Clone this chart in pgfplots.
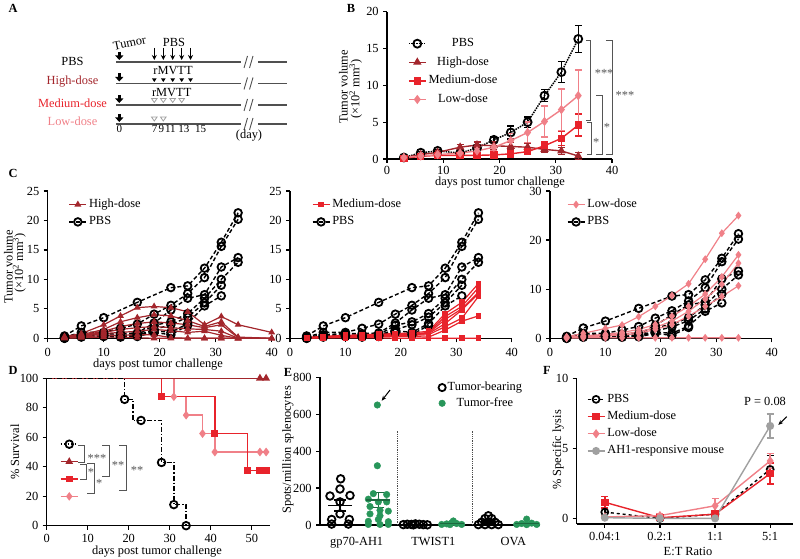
\documentclass[border=0pt]{standalone}
\usepackage{fontspec}
\setmainfont{Liberation Serif}
\usepackage{pgfplots}
\usepackage{pgfplotstable}
\pgfplotsset{compat=1.18}
\usetikzlibrary{arrows.meta}
\definecolor{hi}{RGB}{163,38,44}
\definecolor{med}{RGB}{232,35,43}
\definecolor{low}{RGB}{240,128,136}
\definecolor{grn}{RGB}{40,150,90}
\definecolor{gry}{RGB}{160,160,160}
\definecolor{stg}{RGB}{85,85,85}
\definecolor{tl}{RGB}{80,80,80}
\newcommand\fs{\fontsize{12.4}{14}\selectfont}

\pgfplotsset{
 base/.style={scale only axis, anchor=south west, axis lines=left,
   axis line style={-, line width=1.3pt, black},
   tick style={line width=1.2pt, black}, major tick length=4pt, tick align=outside,
   clip=false, /pgf/number format/assume math mode=true, tick label style={font=\fs},
   scaled ticks=false,
   legend style={draw=none, fill=none, font=\fs, inner sep=0pt,
     nodes={inner ysep=0pt, inner xsep=2pt, text height=9pt, text depth=3pt}}},
 pbsC/.style={black, dash pattern=on 4pt off 2.5pt, line width=1.4pt, mark=o, mark size=3.8pt, mark options={solid, line width=1.8pt}},
 hiC/.style={hi, line width=1.2pt, mark=triangle*, mark size=2.8pt},
 medC/.style={med, line width=1.2pt, mark=square*, mark size=2.3pt},
 lowC/.style={low, line width=1.2pt, mark=diamond*, mark size=3pt},
 eb/.style={error bars/.cd, y dir=both, y explicit, error bar style={solid,line width=1.4pt},
   error mark options={solid, rotate=90, line width=1.4pt, mark size=3.5pt}},
}

% ---------- data ----------
\pgfplotstableread{
d pm pe hm he mm me lm le
3 0.2 0.1 0.2 0.05 0.1 0.05 0.2 0.05
6 0.85 0.2 0.6 0.1 0.35 0.1 0.4 0.1
9 1.1 0.2 0.9 0.2 0.5 0.1 0.6 0.15
13 0.8 0.3 1.6 0.4 0.5 0.1 0.8 0.2
16 1.5 0.3 1.9 0.4 0.5 0.1 1.1 0.3
19 2.6 0.4 1.8 0.5 0.55 0.15 1.6 0.5
22 3.6 0.9 1.7 0.5 0.7 0.2 2.5 1.0
25 5.0 0.7 1.6 0.5 1.0 0.3 3.6 1.4
28 8.6 0.8 1.3 0.4 1.8 0.6 5.1 2.1
31 11.8 1.4 1.1 0.5 2.8 1.0 6.7 2.8
34 16.3 1.8 0.4 0.5 4.6 1.5 8.6 3.5
}\tabB

\pgfplotstableread{
d p1 p2 p3 p4 p5 p6 p7
3 0.4 0.2 0.1 0.0 0.1 0.0 0.2
6 2.1 1.0 0.6 0.3 0.5 0.2 0.4
10 3.5 1.0 0.8 0.6 0.5 0.4 0.3
13 nan 1.7 0.8 0.5 0.4 0.3 0.2
16 6.1 2.4 0.9 0.6 0.5 0.4 0.3
19 nan 4.1 2.6 2.2 1.5 1.3 1.0
22 8.6 5.6 4.8 2.8 2.3 1.0 0.6
25 8.9 7.6 6.8 4.2 3.6 2.5 2.2
28 11.9 10.3 7.4 6.8 6.0 5.5 nan
31 16.3 15.6 12.1 10.0 9.0 7.2 nan
34 21.3 20.2 13.7 12.9 nan nan nan
}\pbsC

\pgfplotstableread{
d h1 h2 h3 h4 h5 h6 h7
3 0.3 0.2 0.2 0.1 0.1 0.1 0.0
6 0.8 0.6 0.5 0.4 0.3 0.2 0.1
10 2.3 1.5 1.2 1.0 0.8 0.5 0.2
13 3.8 2.8 2.0 1.5 1.0 0.5 0.2
16 5.2 3.5 2.5 1.8 1.2 0.6 0.1
19 5.4 4.0 2.8 2.0 1.5 0.6 0.0
22 5.2 3.8 2.6 1.8 1.3 0.1 0.0
25 4.5 3.0 2.3 1.6 1.0 0.0 0.0
28 2.3 2.0 1.8 1.5 1.2 0.0 0.0
31 3.7 2.8 2.3 1.2 0.5 0.0 0.0
34 2.3 0.2 0.1 0.0 0.0 0.0 0.0
40 1.0 0.0 0.0 0.0 nan nan nan
}\hiC

\pgfplotstableread{
d m1 m2 m3 m4 m5 m6 m7
3 0.1 0.1 0.1 0.1 0.0 0.0 0.1
6 0.3 0.3 0.2 0.2 0.1 0.1 0.2
10 0.5 0.4 0.4 0.3 0.2 0.1 0.3
13 0.6 0.5 0.4 0.3 0.2 0.1 0.4
16 0.7 0.6 0.5 0.4 0.3 0.1 0.5
19 0.8 0.6 0.5 0.4 0.3 0.0 0.5
22 0.9 0.7 0.6 0.5 0.3 0.0 0.6
25 1.2 1.0 0.8 0.6 0.2 0.0 0.9
28 4.2 3.7 2.5 2.0 1.4 0.0 3.2
31 6.1 5.4 4.8 3.4 2.9 0.0 5.0
34 9.3 8.6 7.6 7.1 3.8 0.0 7.8
}\medC

\pgfplotstableread{
d l1 l2 l3 l4 l5
3 0.3 0.2 0.1 0.1 0.0
6 1.0 0.5 0.4 0.3 0.1
10 2.0 0.8 0.6 0.5 0.1
13 2.7 1.2 0.9 0.6 0.1
16 4.4 1.8 1.3 1.0 0.1
19 6.5 2.8 2.2 1.8 0.1
22 8.7 4.5 3.5 2.8 0.1
25 11.1 6.5 5.5 4.5 0.1
28 16.1 9.0 8.0 6.5 0.1
31 21.4 12.5 11.0 8.5 0.1
34 25.0 17.0 15.3 10.7 0.1
}\lowC

\pgfplotstableread{
x pb pbe md mde lw lwe ah ahe
0 0.45 0.3 1.15 0.4 0.1 0.1 0.05 0.05
1 0.0 0.1 0.05 0.1 0.2 0.15 0.0 0.05
2 0.3 0.1 0.3 0.1 0.9 0.5 0.0 0.05
3 3.5 1.0 3.2 0.75 4.1 0.55 6.6 0.85
}\tabF

\begin{document}
\fs
\begin{tikzpicture}
\path[use as bounding box] (0,0) rectangle (800pt,559pt);

% ================= B =================
\begin{axis}[base, at={(387pt,400pt)}, width=225pt, height=147.3pt,
  xmin=0,xmax=40,ymin=0,ymax=20, xtick={0,10,...,40}, ytick={0,5,...,20},
  xticklabel style={yshift=1pt},
  legend style={at={(axis cs:3.7,16.5)}, anchor=north west, row sep=6.6pt, cells={anchor=center}}]
\addplot[black, densely dotted, line width=1.5pt, mark=o, mark size=4pt, mark options={solid,line width=1.8pt}, eb]
  table[x=d,y=pm,y error=pe]{\tabB};
\addlegendentry{PBS}
\addplot[hi, line width=1.4pt, mark=triangle*, mark size=3.5pt, eb]
  table[x=d,y=hm,y error=he]{\tabB};
\addlegendentry{High-dose}
\addplot[med, line width=1.4pt, mark=square*, mark size=3pt, eb]
  table[x=d,y=mm,y error=me]{\tabB};
\addlegendentry{Medium-dose}
\addplot[low, line width=1.4pt, mark=diamond*, mark size=3.5pt, eb]
  table[x=d,y=lm,y error=le]{\tabB};
\addlegendentry{Low-dose}
\draw[stg, line width=0.8pt] (axis cs:35.4,16.1) -- (axis cs:36.1,16.1) -- (axis cs:36.1,5.3) -- (axis cs:35.4,5.3);
\draw[stg, line width=0.8pt] (axis cs:38.9,16.1) -- (axis cs:40.1,16.1) -- (axis cs:40.1,0.68) -- (axis cs:38.9,0.68);
\draw[stg, line width=0.8pt] (axis cs:37.2,8.7) -- (axis cs:38.3,8.7) -- (axis cs:38.3,0.68) -- (axis cs:37.2,0.68);
\draw[stg, line width=0.8pt] (axis cs:35.6,4.93) -- (axis cs:36.4,4.93) -- (axis cs:36.4,0.68) -- (axis cs:35.6,0.68);
\node[stg] at (axis cs:38.6,11.6) {***};
\node[stg] at (axis cs:42.3,8.6) {***};
\node[stg] at (axis cs:39.1,4.3) {*};
\node[stg] at (axis cs:37.2,2.3) {*};
\end{axis}

% ================= C1 =================
\begin{axis}[base, at={(47.7pt,220.7pt)}, width=224pt, height=147.3pt,
  xmin=0,xmax=40,ymin=0,ymax=25, xtick={0,10,...,40}, ytick={0,5,...,25},
  xticklabel style={yshift=-1.5pt},
  legend style={at={(axis cs:3.7,23.76)}, anchor=north west, row sep=5.4pt, cells={anchor=west}}]
\addlegendimage{hiC}\addlegendentry{High-dose}
\addlegendimage{pbsC}\addlegendentry{PBS}
\foreach \c in {p1,p2,p3,p4,p5,p6,p7}{\addplot[pbsC, forget plot] table[x=d,y=\c]{\pbsC};}
\foreach \c in {h1,h2,h3,h4,h5,h6,h7}{\addplot[hiC, forget plot] table[x=d,y=\c]{\hiC};}
\end{axis}

% ================= C2 =================
\begin{axis}[base, at={(290pt,220.7pt)}, width=221.7pt, height=147.3pt,
  xmin=0,xmax=40,ymin=0,ymax=25, xtick={0,10,...,40}, ytick={0,5,...,25},
  xticklabel style={yshift=-1.5pt},
  legend style={at={(axis cs:3.9,23.76)}, anchor=north west, row sep=5.4pt, cells={anchor=west}}]
\addlegendimage{medC}\addlegendentry{Medium-dose}
\addlegendimage{pbsC}\addlegendentry{PBS}
\foreach \c in {p1,p2,p3,p4,p5,p6,p7}{\addplot[pbsC, forget plot] table[x=d,y=\c]{\pbsC};}
\foreach \c in {m1,m2,m3,m4,m5,m6,m7}{\addplot[medC, forget plot] table[x=d,y=\c]{\medC};}
\end{axis}

% ================= C3 =================
\begin{axis}[base, at={(550pt,220.7pt)}, width=221.7pt, height=147.3pt,
  xmin=0,xmax=40,ymin=0,ymax=30, xtick={0,10,...,40}, ytick={0,10,20,30},
  xticklabel style={yshift=-1.5pt},
  legend style={at={(axis cs:3.0,28.5)}, anchor=north west, row sep=5.4pt, cells={anchor=west}}]
\addlegendimage{lowC}\addlegendentry{Low-dose}
\addlegendimage{pbsC}\addlegendentry{PBS}
\foreach \c in {p1,p2,p3,p4,p5,p6,p7}{\addplot[pbsC, forget plot] table[x=d,y=\c]{\pbsC};}
\foreach \c in {l1,l2,l3,l4,l5}{\addplot[lowC, forget plot] table[x=d,y=\c]{\lowC};}
\end{axis}

% ================= D =================
\begin{axis}[base, at={(46.7pt,33.3pt)}, width=223.5pt, height=147.4pt,
  xmin=0,xmax=54.5,ymin=0,ymax=100, xtick={0,10,...,50}, ytick={0,20,...,100},
  legend style={at={(axis cs:3.2,59.5)}, anchor=north west, row sep=5.4pt, cells={anchor=west}}]
\addlegendimage{black, dash pattern=on 1.5pt off 2pt, line width=1.4pt, mark=o, mark size=3.8pt, mark options={solid,line width=1.8pt}}\addlegendentry{\mbox{}}
\addlegendimage{hiC, mark size=3.2pt}\addlegendentry{\mbox{}}
\addlegendimage{medC, mark size=2.8pt}\addlegendentry{\mbox{}}
\addlegendimage{lowC, mark size=3.3pt}\addlegendentry{\mbox{}}
\addplot[low, line width=1.4pt, const plot mark left, mark=diamond*, mark size=3.3pt, mark indices={2,3,4,5,6,7}, forget plot]
  coordinates {(0,100)(31,87.5)(34,75)(38,62.5)(41,50)(52,50)(53.5,50)};
\addplot[med, line width=1.4pt, const plot mark left, mark=square*, mark size=2.8pt, mark indices={2,3,4,5,6}, forget plot]
  coordinates {(0,100)(28,87.5)(41,62.5)(49,37.5)(52,37.5)(53.5,37.5)};
\addplot[hi, line width=1.4pt, mark=triangle*, mark size=3.2pt, mark indices={2,3}, forget plot]
  coordinates {(0,100)(52,100)(53.5,100)};
\addplot[black, dash pattern=on 5pt off 2pt on 1.2pt off 2pt, line width=1.4pt, const plot mark left, mark=o, mark size=3.8pt, mark options={solid,line width=1.8pt}, mark indices={2,4,5,6}, forget plot]
  coordinates {(0,100)(19,85.7)(21,71.4)(28,42.9)(31,14.3)(34,0)};
\addplot[black, only marks, mark=o, mark size=3.8pt, mark options={solid,line width=1.8pt}, forget plot]
  coordinates {(23,71.4)};
\end{axis}

% ================= E =================
\begin{axis}[base, at={(320pt,34pt)}, width=220pt, height=147.7pt,
  xmin=0,xmax=6.6,ymin=0,ymax=800, ytick={0,200,...,800},
  xtick={1.1,3.4,5.8}, xticklabels={gp70-AH1,TWIST1,OVA}, major x tick style={draw=none},
  xticklabel style={yshift=-4pt},
  legend style={at={(axis cs:3.55,778)}, anchor=north west, row sep=3.7pt, cells={anchor=center}}]
\addlegendimage{only marks, mark=o, black, mark size=3.6pt, mark options={line width=1.8pt}}\addlegendentry{Tumor-bearing}
\addlegendimage{only marks, mark=*, grn, mark size=3.3pt}\addlegendentry{Tumor-free}
\addplot[gray!60!black, densely dotted, line width=0.8pt, forget plot] coordinates {(2.33,0)(2.33,510)};
\addplot[gray!60!black, densely dotted, line width=0.8pt, forget plot] coordinates {(4.57,0)(4.57,510)};
\addplot[only marks, mark=o, black, mark size=3.8pt, mark options={line width=1.8pt}, forget plot]
 coordinates {(0.62,250)(0.6,195)(0.3,157)(0.9,160)(0.6,125)(0.35,30)(0.88,30)(0.6,60)(0.35,5)(0.85,5)
 (2.5,2)(2.62,4)(2.74,3)(2.86,6)(2.98,4)(3.1,2)(3.22,1)(2.8,1)
 (5.05,50)(4.95,35)(5.15,35)(4.85,15)(5.05,15)(5.25,15)(4.75,2)(4.95,2)(5.15,2)(5.35,2)};
\addplot[only marks, mark=*, grn, mark size=3.3pt, forget plot]
 coordinates {(1.72,650)(1.72,321)(1.6,170)(2.0,165)(1.45,140)(1.75,125)(2.0,125)(1.5,100)(1.8,80)(2.05,75)(1.5,60)(1.8,50)(1.45,20)(1.75,30)(2.05,18)(1.45,3)(1.8,3)(2.05,3)
 (3.65,3)(3.8,6)(3.95,12)(4.0,22)(4.1,8)(4.25,3)(3.9,2)
 (5.9,3)(6.05,8)(6.2,32)(6.35,10)(6.5,3)(6.2,2)};
\addplot[black, only marks, mark=-, mark size=12pt, mark options={line width=1.5pt}, forget plot,
  error bars/.cd, y dir=both, y explicit, error bar style={line width=1.5pt}, error mark options={rotate=90, line width=1.5pt, mark size=6pt}]
  coordinates {(0.6,105) +- (0,30) (2.85,3) +- (0,1) (5.05,18) +- (0,6)};
\addplot[grn!70!black, only marks, mark=-, mark size=12pt, mark options={line width=1.5pt}, forget plot,
  error bars/.cd, y dir=both, y explicit, error bar style={line width=1.5pt}, error mark options={rotate=90, line width=1.5pt, mark size=6pt}]
  coordinates {(1.75,135) +- (0,40) (3.95,8) +- (0,3) (6.2,8) +- (0,4)};
\draw[-{Stealth[length=5pt,width=4pt]}, line width=1pt] (axis cs:2.1,731) -- (axis cs:1.85,673);
\end{axis}

% ================= F =================
\begin{axis}[base, at={(576.7pt,35pt)}, width=216.6pt, height=145.7pt,
  xmin=-0.51,xmax=3.42,ymin=-0.4,ymax=10, ytick={0,5,10},
  xtick={0,1,2,3}, xticklabels={0.04:1,0.2:1,1:1,5:1},
  legend style={at={(axis cs:-0.33,8.94)}, anchor=north west, row sep=5.2pt, cells={anchor=west}}]
\addplot[black, dashed, line width=1.4pt, mark=o, mark size=3.5pt, mark options={solid,line width=1.7pt}, eb]
  table[x=x,y=pb,y error=pbe]{\tabF};
\addlegendentry{PBS}
\addplot[med, line width=1.4pt, mark=square*, mark size=3pt, eb]
  table[x=x,y=md,y error=mde]{\tabF};
\addlegendentry{Medium-dose}
\addplot[low, line width=1.4pt, mark=diamond*, mark size=3.5pt, eb]
  table[x=x,y=lw,y error=lwe]{\tabF};
\addlegendentry{Low-dose}
\addplot[gry, line width=1.4pt, mark=*, mark size=3.3pt, eb]
  table[x=x,y=ah,y error=ahe]{\tabF};
\addlegendentry{AH1-responsive mouse}
\end{axis}

% ================= annotations (pixel coordinates) =================
\begin{scope}[shift={(0pt,559pt)}, x=1pt, y=-1pt]
 \node[font=\fs\bfseries] at (13,8) {A};
 \node[font=\fs\bfseries] at (351,8) {B};
 \node[font=\fs\bfseries] at (13,173) {C};
 \node[font=\fs\bfseries] at (13,370) {D};
 \node[font=\fs\bfseries] at (288,372) {E};
 \node[font=\fs\bfseries] at (547,370) {F};
 % panel A
 \node at (72.5,61) {PBS};
 \node[text=hi] at (72.5,81.5) {High-dose};
 \node[text=med] at (72.5,103) {Medium-dose};
 \node[text=low] at (72.5,121) {Low-dose};
 \foreach \yy in {62,83.5,105,124}{
   \draw[tl, line width=1.1pt] (116,\yy) -- (241,\yy);
   \draw[tl, line width=1.1pt] (258,\yy) -- (287,\yy);
   \draw[tl, line width=0.9pt] (244,\yy+6) -- (247.5,\yy-6);
   \draw[tl, line width=0.9pt] (249.5,\yy+6) -- (253,\yy-6);
   \draw[black, line width=2.6pt, -{Triangle[width=8pt,length=4.5pt]}] (119.3,\yy-10) -- (119.3,\yy-2);
 }
 \foreach \xx in {154.3,163.3,172.7,181.7,190.5}{
   \draw[black, line width=0.9pt, -{Stealth[width=5pt,length=5pt]}] (\xx,48) -- (\xx,60);
   \fill[black] (\xx-2.4,78.3) -- (\xx+2.4,78.3) -- (\xx,82) -- cycle;
 }
 \foreach \xx in {154.3,163.3,172.7,181.7}{
   \draw[gry, line width=0.8pt] (\xx-2.8,98.5) -- (\xx+2.8,98.5) -- (\xx,102.5) -- cycle;
 }
 \foreach \xx in {154.3,163.3}{
   \draw[gry, line width=0.8pt] (\xx-2.8,117) -- (\xx+2.8,117) -- (\xx,121) -- cycle;
 }
 \node[rotate=12] at (129.5,43) {Tumor};
 \node at (174,42.7) {PBS};
 \node at (173,71) {rMVTT};
 \node at (171.7,92.3) {rMVTT};
 \begin{scope}[every node/.style={font=\fontsize{11}{12}\selectfont}]
 \node at (119.3,129) {0};
 \node at (154.5,129) {7};
 \node at (161.3,129) {9};
 \node at (170.3,129) {11};
 \node at (183.8,129) {13};
 \node at (200.5,129) {15};
 \end{scope}
 \node at (249,136) {(day)};
 % axis labels
 \node[rotate=90] at (343.3,87) {Tumor volume};
 \node[rotate=90] at (355.7,89) {(×10\textsuperscript{2} mm\textsuperscript{3})};
 \node[inner sep=0pt] at (500,183) {days post tumor challenge};
 \node[rotate=90] at (8.3,267) {Tumor volume};
 \node[rotate=90] at (19.3,263) {(×10\textsuperscript{2} mm\textsuperscript{3})};
 \node[inner sep=0pt] at (158,364.5) {days post tumor challenge};
 \node[inner sep=0pt] at (157,552) {days post tumor challenge};
 \node[rotate=90] at (15,452) {\% Survival};
 \node[rotate=90] at (288,450) {Spots/million splenocytes};
 \node[rotate=90] at (558,450) {\% Specific lysis};
 \node[inner sep=0pt] at (688,551) {E:T Ratio};
 \node at (765,401) {P = 0.08};
 \draw[-{Stealth[length=5pt,width=4pt]}, line width=1pt] (786.7,416.7) -- (778.3,425);
 % D significance brackets
 \begin{scope}[stg, line width=0.8pt]
  \draw (78.3,445) -- (84.3,445) -- (84.3,462) -- (78.3,462);
  \draw (80,464) -- (86.5,464) -- (86.5,479) -- (80,479);
  \draw (87,463) -- (94.3,463) -- (94.3,493) -- (87,493);
  \draw (102,445) -- (109.3,445) -- (109.3,476.7) -- (102,476.7);
  \draw (119,445) -- (126,445) -- (126,490.7) -- (119,490.7);
 \end{scope}
 \node[stg] at (97,458) {***};
 \node[stg] at (91,472) {*};
 \node[stg] at (99.3,483) {*};
 \node[stg] at (118,465) {**};
 \node[stg] at (137,470) {**};
\end{scope}
\end{tikzpicture}
\end{document}
